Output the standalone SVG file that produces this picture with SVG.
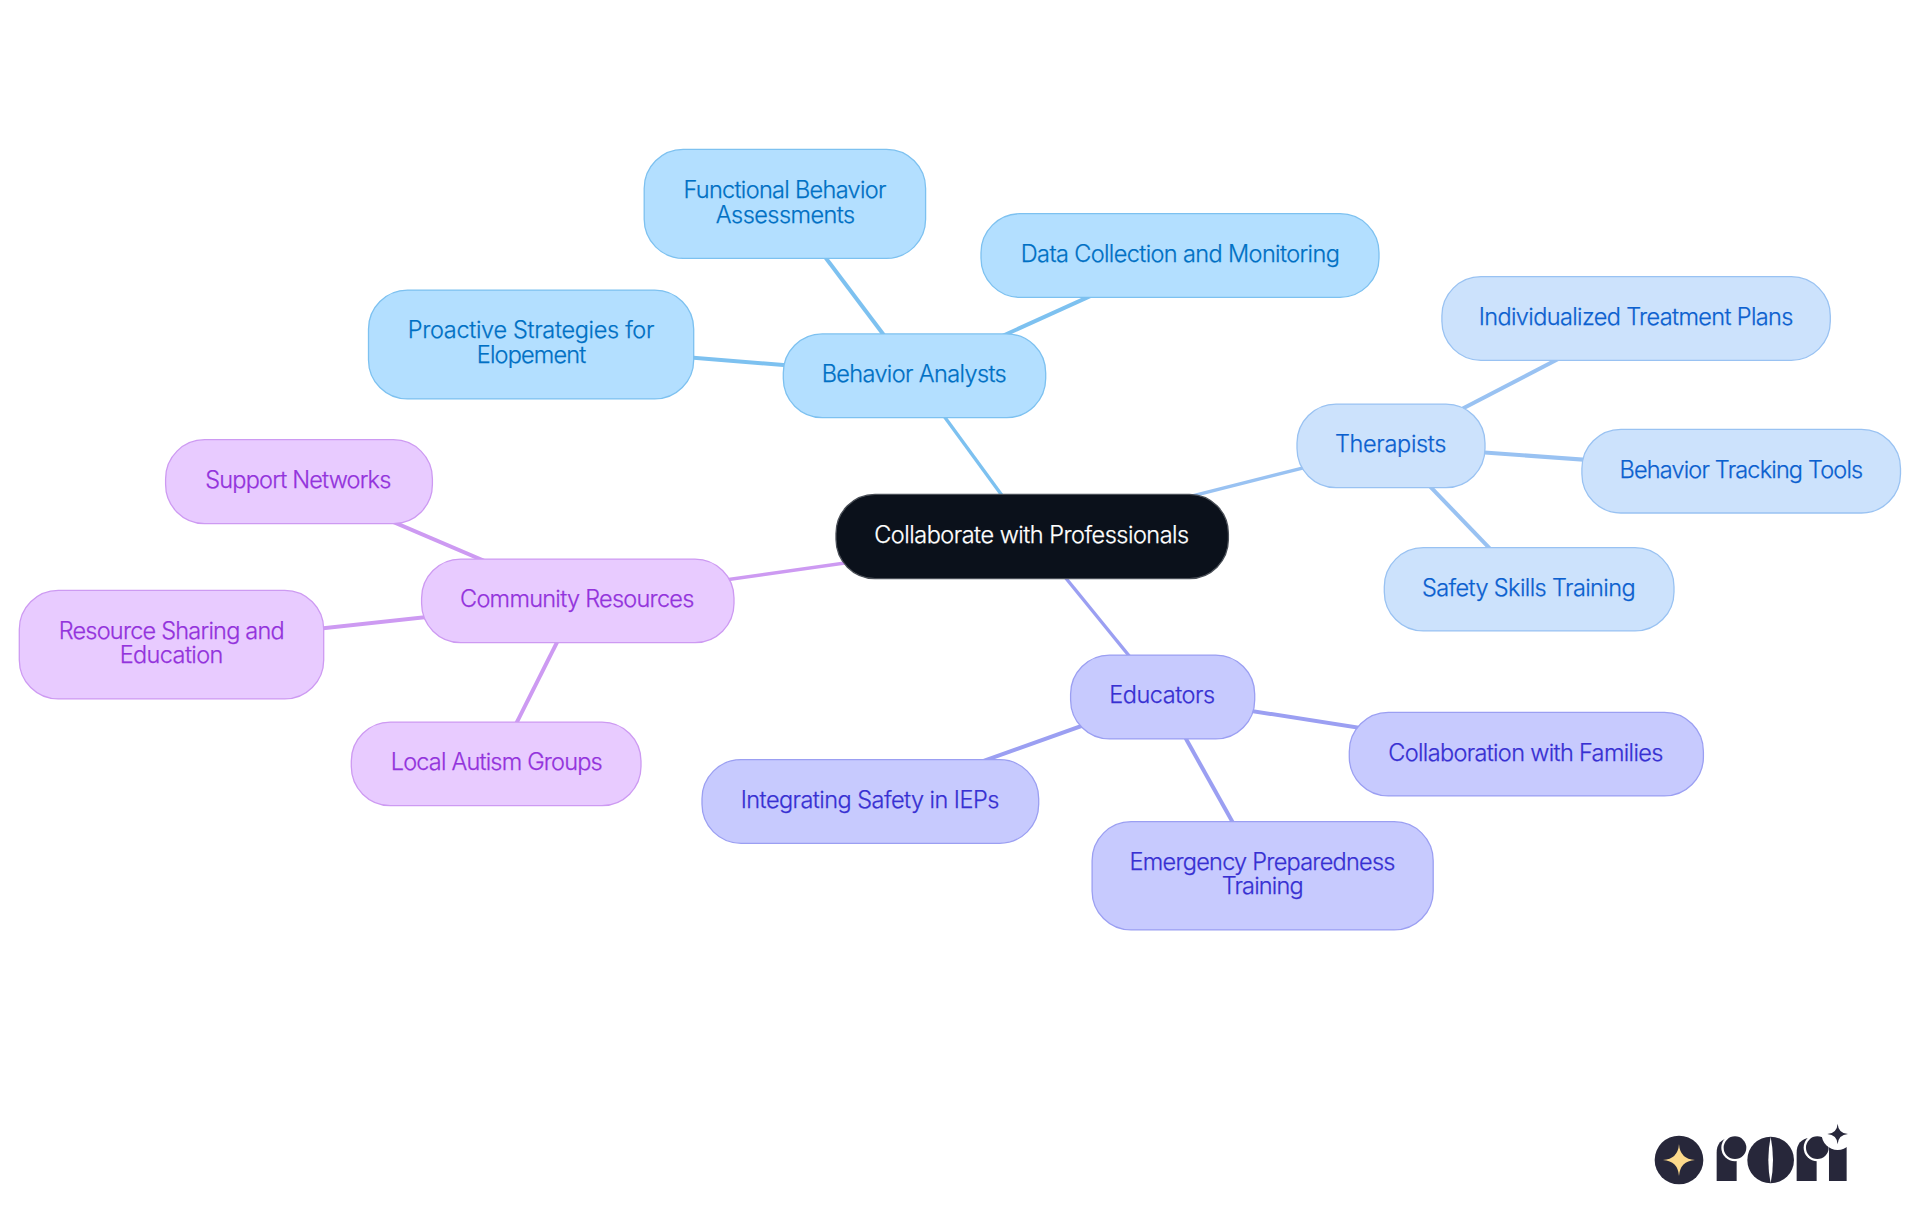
<svg xmlns="http://www.w3.org/2000/svg" width="1920" height="1215" viewBox="0 0 1920 1215">
<style>
text{font-family:"Inter","Noto Sans","Liberation Sans",sans-serif;font-size:23.5px;text-anchor:middle;font-weight:300;stroke-width:.25}
rect.n{stroke-width:1.3;rx:39px;ry:39px}
.root rect{fill:#0b111b;stroke:#4a4f57}.root text{fill:#fff;stroke:#fff}
.a rect{fill:#b3dfff;stroke:#7dc1f0}.a text{fill:#0070c4;stroke:#0070c4}
.b rect{fill:#cce2fc;stroke:#99c2f2}.b text{fill:#0b60cf;stroke:#0b60cf}
.c rect{fill:#c7cafe;stroke:#9b9ff2}.c text{fill:#3730d2;stroke:#3730d2}
.d rect{fill:#e8cbff;stroke:#cd9af2}.d text{fill:#9333dc;stroke:#9333dc}
#connectors line{fill:none;stroke-linecap:butt}
.la{stroke:#7dc1f0}.lb{stroke:#99c2f2}.lc{stroke:#9b9ff2}.ld{stroke:#cd9af2}
.t1{stroke-width:3.4}.t2{stroke-width:4}
.ink{fill:#27273a}
</style>
<rect width="1920" height="1215" fill="#fff"/>
<g id="connectors">
<line class="la t1" x1="1032" y1="536.5" x2="914.5" y2="375.7"/>
<line class="lb t1" x1="1032" y1="536.5" x2="1391" y2="445.8"/>
<line class="lc t1" x1="1032" y1="536.5" x2="1162.6" y2="697"/>
<line class="ld t1" x1="1032" y1="536.5" x2="577.8" y2="600.8"/>
<line class="la t2" x1="914.5" y1="375.7" x2="785" y2="203.8"/>
<line class="la t2" x1="914.5" y1="375.7" x2="1180" y2="255.5"/>
<line class="la t2" x1="914.5" y1="375.7" x2="531" y2="344.5"/>
<line class="lb t2" x1="1391" y1="445.8" x2="1636" y2="318.5"/>
<line class="lb t2" x1="1391" y1="445.8" x2="1741" y2="471"/>
<line class="lb t2" x1="1391" y1="445.8" x2="1529" y2="589.3"/>
<line class="lc t2" x1="1162.6" y1="697" x2="1526" y2="754"/>
<line class="lc t2" x1="1162.6" y1="697" x2="870" y2="801.5"/>
<line class="lc t2" x1="1162.6" y1="697" x2="1262.6" y2="875.8"/>
<line class="ld t2" x1="577.8" y1="600.8" x2="299" y2="481.7"/>
<line class="ld t2" x1="577.8" y1="600.8" x2="171.5" y2="644.6"/>
<line class="ld t2" x1="577.8" y1="600.8" x2="496" y2="763.8"/>
</g>
<g id="node-root" class="root"><rect class="n" x="836" y="494.4" width="392.4" height="84.2"/><text x="1031.7" y="542.7" textLength="315">Collaborate with Professionals</text></g>
<g id="node-behavior-analysts" class="a"><rect class="n" x="783.3" y="333.9" width="262.4" height="83.7"/><text x="914.2" y="382" textLength="185">Behavior Analysts</text></g>
<g id="node-functional" class="a"><rect class="n" x="644.2" y="149.4" width="281.4" height="108.9"/><text x="784.9" y="198.3" textLength="203">Functional Behavior</text><text x="785.5" y="223" textLength="139.4">Assessments</text></g>
<g id="node-data" class="a"><rect class="n" x="981" y="213.7" width="398" height="83.6"/><text x="1180.3" y="262" textLength="319">Data Collection and Monitoring</text></g>
<g id="node-proactive" class="a"><rect class="n" x="368.5" y="290.1" width="325.2" height="108.8"/><text x="531.1" y="338" textLength="246.6">Proactive Strategies for</text><text x="531.5" y="362.7" textLength="109.4">Elopement</text></g>
<g id="node-therapists" class="b"><rect class="n" x="1297" y="404.1" width="188" height="83.5"/><text x="1390.7" y="452.2" textLength="111.5">Therapists</text></g>
<g id="node-individualized" class="b"><rect class="n" x="1441.9" y="276.7" width="388.4" height="83.6"/><text x="1636.1" y="325" textLength="314.7">Individualized Treatment Plans</text></g>
<g id="node-tracking" class="b"><rect class="n" x="1581.9" y="429.4" width="318.6" height="83.6"/><text x="1741.4" y="477.5" textLength="243.7">Behavior Tracking Tools</text></g>
<g id="node-safety" class="b"><rect class="n" x="1384.3" y="547.7" width="289.7" height="83.2"/><text x="1528.8" y="596" textLength="213.5">Safety Skills Training</text></g>
<g id="node-educators" class="c"><rect class="n" x="1070.6" y="655.1" width="184.1" height="83.8"/><text x="1162.2" y="703.3" textLength="105.7">Educators</text></g>
<g id="node-families" class="c"><rect class="n" x="1349.3" y="712.4" width="354.1" height="83.5"/><text x="1525.8" y="760.5" textLength="275">Collaboration with Families</text></g>
<g id="node-ieps" class="c"><rect class="n" x="702" y="759.7" width="336.7" height="83.6"/><text x="870" y="808" textLength="258.6">Integrating Safety in IEPs</text></g>
<g id="node-emergency" class="c"><rect class="n" x="1092.1" y="821.7" width="341.1" height="108.2"/><text x="1262.5" y="870" textLength="266">Emergency Preparedness</text><text x="1262.7" y="894.3" textLength="82">Training</text></g>
<g id="node-community" class="d"><rect class="n" x="421.6" y="559.1" width="312.4" height="83.5"/><text x="577.2" y="606.8" textLength="234.3">Community Resources</text></g>
<g id="node-support" class="d"><rect class="n" x="165.6" y="439.7" width="266.8" height="83.9"/><text x="298.3" y="488" textLength="186">Support Networks</text></g>
<g id="node-resource" class="d"><rect class="n" x="19.3" y="590.4" width="304.4" height="108.5"/><text x="171.7" y="638.8" textLength="226">Resource Sharing and</text><text x="171.5" y="663.2" textLength="103.6">Education</text></g>
<g id="node-local" class="d"><rect class="n" x="351.3" y="722.1" width="289.7" height="83.5"/><text x="496.7" y="770" textLength="212">Local Autism Groups</text></g>
<g id="logo" transform="translate(1620 1100) scale(.3333)">
<circle class="ink" cx="177" cy="180" r="73"/>
<path fill="#fcd98b" d="M177 132Q180 177 225 180Q180 183 177 228Q174 183 129 180Q174 177 177 132Z"/>
<path class="ink" d="M290 243V158Q290 118 330 113H350V243Z"/>
<circle fill="#fff" cx="345" cy="143" r="41"/><circle class="ink" cx="345" cy="143" r="34"/>
<circle class="ink" cx="452" cy="180" r="70"/>
<path fill="#fff" d="M452 110Q438 180 452 250Q466 180 452 110Z"/>
<path class="ink" d="M530 243V158Q530 118 570 113H590V243Z"/>
<circle fill="#fff" cx="592" cy="143" r="41"/><circle class="ink" cx="592" cy="143" r="34"/>
<rect class="ink" x="627" y="136" width="53" height="107"/>
<circle fill="#fff" cx="653" cy="102" r="48"/>
<path class="ink" d="M653 71Q655 100 684 102Q655 104 653 133Q651 104 622 102Q651 100 653 71Z"/>
</g>
</svg>
